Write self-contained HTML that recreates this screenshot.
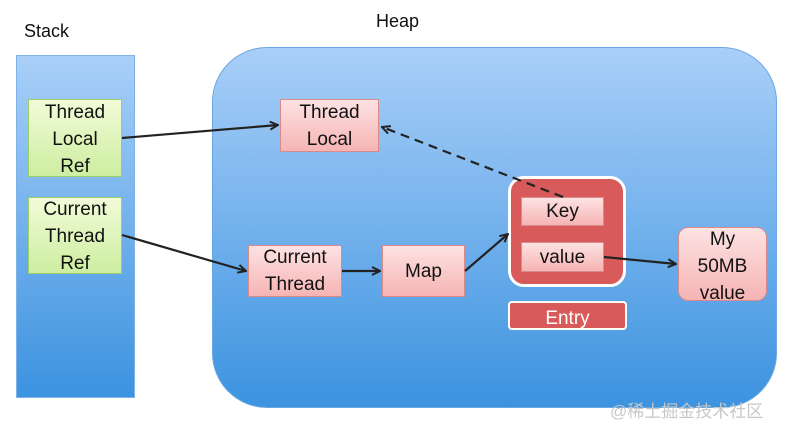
<html><head><style>
body{margin:0;width:802px;height:435px;background:#fff;position:relative;font-family:"Liberation Sans",sans-serif;overflow:hidden}
.a{position:absolute;box-sizing:border-box;display:flex;align-items:center;justify-content:center;text-align:center;font-size:19px;line-height:27px;color:#111}
.g{background:linear-gradient(#f2fbd8,#cdeea0);border:1px solid #9ccf6a}
.p{background:linear-gradient(#fde2e2,#f6b4b4);border:1px solid #d98a8a}
.bl{background:linear-gradient(#a9cff8,#3c93e0);}
</style></head><body>
<div class="a" style="left:24px;top:18px;font-size:18px;">Stack</div>
<div class="a" style="left:376px;top:8px;font-size:18px;">Heap</div>
<div class="a bl" style="left:16px;top:55px;width:119px;height:343px;border:1px solid #7fb3e8"></div>
<div class="a bl" style="left:212px;top:47px;width:565px;height:361px;border-radius:55px;border:1px solid #6aa6e4"></div>
<div class="a g" style="left:28px;top:99px;width:94px;height:78px;padding-top:2px">Thread<br>Local<br>Ref</div>
<div class="a g" style="left:28px;top:197px;width:94px;height:77px;padding-top:2px">Current<br>Thread<br>Ref</div>
<div class="a p" style="left:280px;top:99px;width:99px;height:53px">Thread<br>Local</div>
<div class="a p" style="left:248px;top:245px;width:94px;height:52px">Current<br>Thread</div>
<div class="a p" style="left:382px;top:245px;width:83px;height:52px">Map</div>
<div class="a" style="left:508px;top:176px;width:118px;height:111px;background:#d95a5a;border:3px solid #fff;border-radius:16px"></div>
<div class="a p" style="left:521px;top:197px;width:83px;height:29px">Key</div>
<div class="a p" style="left:521px;top:242px;width:83px;height:30px">value</div>
<div class="a" style="left:508px;top:301px;width:119px;height:29px;background:#d95a5a;border:2px solid #fff;border-radius:4px;color:#fff;padding-top:5px">Entry</div>
<div class="a p" style="left:678px;top:227px;width:89px;height:74px;border-radius:10px;padding-top:4px">My<br>50MB<br>value</div>
<div class="a" style="left:610px;top:398px;font-size:17px;color:#c8c8c8;font-family:'Liberation Sans','Noto Sans CJK SC',sans-serif">@稀土掘金技术社区</div>
<svg width="802" height="435" style="position:absolute;left:0;top:0">
<defs><marker id="m" markerWidth="10" markerHeight="10" refX="9" refY="5" orient="auto" markerUnits="userSpaceOnUse"><path d="M1,1 L9,5 L1,9" fill="none" stroke="#222" stroke-width="2"/></marker></defs>
<g stroke="#222" stroke-width="2.2" fill="none">
<line x1="122" y1="138" x2="278" y2="125" marker-end="url(#m)"/>
<line x1="122" y1="235" x2="246" y2="271" marker-end="url(#m)"/>
<line x1="342" y1="271" x2="380" y2="271" marker-end="url(#m)"/>
<line x1="465" y1="271" x2="508" y2="234" marker-end="url(#m)"/>
<line x1="604" y1="257" x2="676" y2="264" marker-end="url(#m)"/>
<line x1="563" y1="197" x2="382" y2="127" stroke-dasharray="9,6" marker-end="url(#m)"/>
</g></svg>
</body></html>
